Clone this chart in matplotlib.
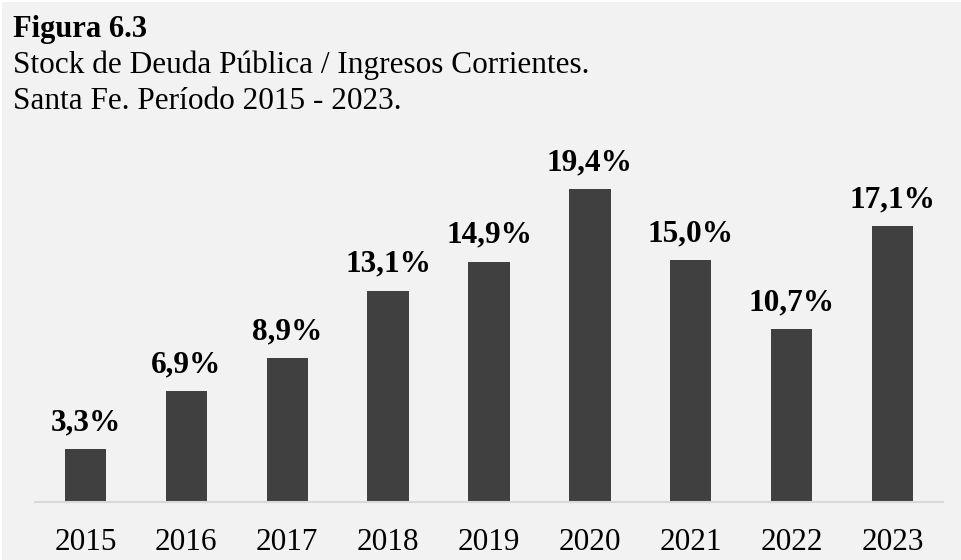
import numpy as np
import matplotlib
matplotlib.use("Agg")
from matplotlib import pyplot as plt
from matplotlib.patches import Rectangle

# Datos: stock de deuda / ingresos corrientes (%)
anios = ["2015", "2016", "2017", "2018", "2019", "2020", "2021", "2022", "2023"]
ratio = [3.3, 6.9, 8.9, 13.1, 14.9, 19.4, 15.0, 10.7, 17.1]

titulo = "Figura 6.3"
subtitulo1 = "Stock de Deuda Pública / Ingresos Corrientes."
subtitulo2 = "Santa Fe. Período 2015 - 2023."

plt.rcParams['font.family'] = ['Liberation Serif', 'DejaVu Serif']

W, H = 961, 560
fondo = '#f2f2f2'
barra = '#404040'

fig = plt.figure(figsize=(W / 100, H / 100), dpi=100, facecolor='white')
# panel gris con un pequeño margen blanco arriba y a la izquierda
fig.patches.append(Rectangle((2 / W, 0), 1, 1 - 2 / H, transform=fig.transFigure,
                             facecolor=fondo, edgecolor='none', zorder=-10))

ax = fig.add_axes([35 / W, 1 - 502 / H, 908 / W, 355 / H])
ax.set_facecolor('none')

x = np.arange(len(anios))
ax.bar(x, ratio, width=0.41, color=barra, zorder=2)
ax.set_xlim(-0.5, len(anios) - 0.5)
ax.set_ylim(0, 22)

for xi, v in zip(x, ratio):
    etiqueta = f"{v:.1f}%".replace('.', ',')
    ax.annotate(etiqueta, (xi, v), xytext=(0, 13.5), textcoords='offset points',
                ha='center', va='baseline', fontsize=22.5, fontweight='bold',
                color='black')

ax.set_xticks(x)
ax.set_xticklabels(anios, fontsize=22.5, color='black')
ax.tick_params(axis='x', length=0, pad=19)
ax.set_yticks([])
for lado in ['top', 'right', 'left']:
    ax.spines[lado].set_visible(False)
ax.spines['bottom'].set_color('#d9d9d9')
ax.spines['bottom'].set_linewidth(1.5)

# Titulos
fig.text(13 / W, 1 - 37 / H, titulo, fontsize=22, fontweight='bold',
         ha='left', va='baseline')
fig.text(13 / W, 1 - 73 / H, subtitulo1, fontsize=22.5, ha='left', va='baseline')
fig.text(13 / W, 1 - 109 / H, subtitulo2, fontsize=22.5, ha='left', va='baseline')

fig.savefig('out.png', dpi=100, facecolor=fig.get_facecolor())
plt.close()
